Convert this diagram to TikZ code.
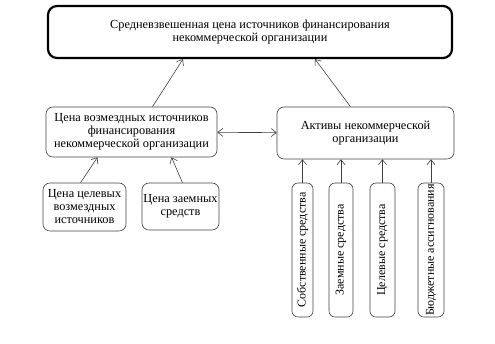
\documentclass[tikz,border=0pt]{standalone}
\usepackage{fontspec}
\setmainfont{Liberation Serif}
\usetikzlibrary{positioning, arrows.meta}

\begin{document}
\begin{tikzpicture}[
x=1pt, y=1pt,
    mainbox/.style={draw=black, rectangle, line width=2.2pt, minimum width=404pt, minimum height=52pt, align=center, rounded corners=9pt, font=\fontsize{12.3}{13}\selectfont},
    block/.style={draw=black!75, rectangle, line width=0.6pt, align=center, rounded corners=7pt, inner sep=1pt, font=\fontsize{12.3}{13}\selectfont},
    vblock/.style={draw=black!75, rectangle, line width=0.6pt, rotate=90, rounded corners=6pt, inner xsep=0pt, inner ysep=1pt, minimum width=134pt, font=\fontsize{12}{13}\selectfont},
    line/.style={draw=black!75, line width=0.6pt, -{Straight Barb[length=5pt, width=8pt]}},
    twoway/.style={draw=black!75, line width=0.6pt, {Straight Barb[length=5pt, width=8pt]}-{Straight Barb[length=5pt, width=8pt]}}
]
    \useasboundingbox (0,0) rectangle (495,344);

    % --- Top: weighted average cost ---
    \node[mainbox] (wacc) at (250, 312) {Средневзвешенная цена источников финансирования\\некоммерческой организации};

    % --- Middle level ---
    \node[block, minimum width=171pt, minimum height=50pt] (paid) at (131.5, 212) {Цена возмездных источников\\финансирования\\некоммерческой организации};
    \node[block, minimum width=177pt, minimum height=52pt] (assets) at (365.5, 211) {Активы некоммерческой\\организации};
    \draw[line] ([xshift=21pt]paid.north) -- ([xshift=-67pt]wacc.south);
    \draw[line] ([xshift=-15pt]assets.north) -- ([xshift=65pt]wacc.south);
    \draw[twoway] (paid) -- (assets);

    % --- Lower level left: kinds of paid sources ---
    \node[block, minimum width=83pt, minimum height=48pt] (target) at (84.5, 137) {Цена целевых\\возмездных\\источников};
    \node[block, minimum width=77pt, minimum height=47pt] (loan) at (180.5, 137.5) {Цена заемных\\средств};
    \draw[line] ([xshift=-4pt]target.north) -- ([xshift=-34pt]paid.south);
    \draw[line] ([xshift=2pt]loan.north) -- ([xshift=40pt]paid.south);

    % --- Lower level right: kinds of assets ---
    \node[vblock, minimum height=21pt] (own) at (302.5, 94) {Собственные средства};
    \node[vblock, minimum height=24pt] (borrowed) at (341, 94) {Заемные средства};
    \node[vblock, minimum height=25pt] (purpose) at (382.5, 94) {Целевые средства};
    \node[vblock, minimum height=26pt] (budget) at (431, 94) {Бюджетные ассигнования};
    \draw[line] (own.east) -- (own.east |- assets.south);
    \draw[line] (borrowed.east) -- (borrowed.east |- assets.south);
    \draw[line] (purpose.east) -- (purpose.east |- assets.south);
    \draw[line] (budget.east) -- (budget.east |- assets.south);

\end{tikzpicture}
\end{document}
